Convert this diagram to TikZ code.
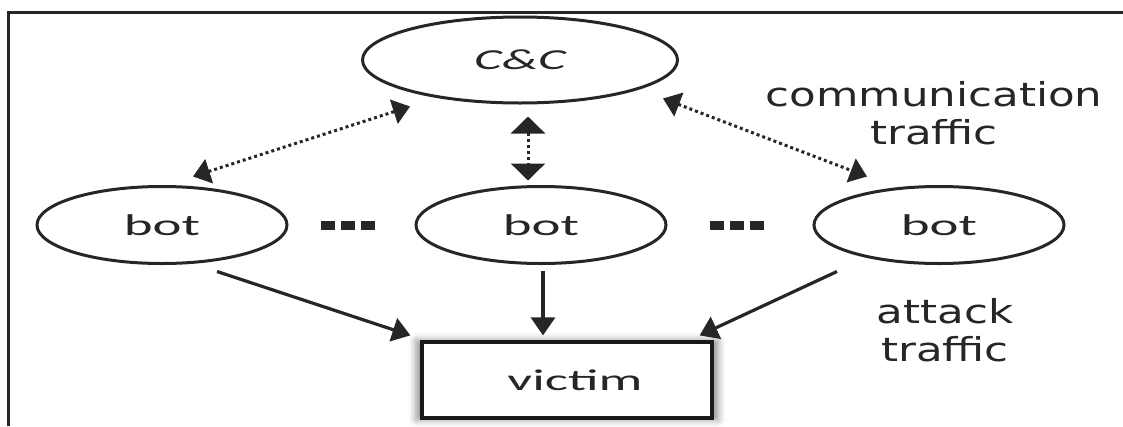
\documentclass[tikz,border=0pt]{standalone}
\usepackage{fontspec}
\newfontfamily\nodefont[FakeStretch=1.83]{Carlito}
\newfontfamily\labelfont[FakeStretch=1.32]{DejaVu Sans}
\usetikzlibrary{arrows.meta,shapes.geometric,shadows.blur}

\begin{document}
\begin{tikzpicture}[x=1pt,y=-1pt,
  ink/.style={draw=black!85, line width=3pt},
  botnode/.style={ellipse, ink, minimum width=250pt, minimum height=77pt,
    inner sep=0pt, font=\nodefont\fontsize{30}{36}\selectfont, text=black!85},
  ccnode/.style={botnode, minimum width=315pt, minimum height=86pt,
    font=\nodefont\itshape\fontsize{29}{36}\selectfont},
  victimbox/.style={rectangle, draw=black!90, line width=3.2pt, fill=white,
    minimum width=290pt, minimum height=76pt, inner sep=0pt,
    font=\nodefont\fontsize{30}{36}\selectfont, text=black!85,
    blur shadow={shadow xshift=0pt, shadow yshift=0pt, shadow scale=1.04,
      shadow blur radius=7pt, shadow opacity=45}},
  ellipsis/.style={inner sep=0pt, text=black!85},
  lbl/.style={font=\labelfont\fontsize{33}{38}\selectfont, text=black!85,
    align=center, inner sep=0pt},
  dotarrow/.style={line width=3pt, draw=black!85, dash pattern=on 3pt off 3pt,
    {Triangle[length=17pt,width=25pt]}-{Triangle[length=17pt,width=25pt]}},
  wideend/.style={{Triangle[length=17pt,width=34pt]}-{Triangle[length=17pt,width=34pt]}},
  hitarrow/.style={line width=3.2pt, draw=black!85, -{Triangle[length=18pt,width=24pt]}}
]
\useasboundingbox (0,0) rectangle (1123,426);

% frame
\draw[line width=3pt, black!85] (8.5,426) -- (8.5,12) -- (1123,12);

% nodes
\node[ccnode] (cc) at (520,60) {C\&C};
\node[botnode] (botL) at (162,225) {bot};
\node[botnode] (botM) at (541,225) {bot};
\node[botnode] (botR) at (939,225) {bot};
\node[victimbox] (victim) at (567,380) {\hspace*{16pt}victim};

\node[ellipsis] (dotsL) at (348,225) {\rule{14pt}{9pt}\hspace{6pt}\rule{14pt}{9pt}\hspace{6pt}\rule{14pt}{9pt}};
\node[ellipsis] (dotsR) at (737,225) {\rule{14pt}{9pt}\hspace{6pt}\rule{14pt}{9pt}\hspace{6pt}\rule{14pt}{9pt}};

% labels
\node[lbl] (comm) at (934,113) {communication\\traffic};
\node[lbl] (atk) at (945,330) {attack\\traffic};

% communication traffic
\draw[dotarrow] ([xshift=31pt,yshift=8.5pt]botL.north) -- ([xshift=-110pt,yshift=-2pt]cc.south);
\draw[dotarrow] ([xshift=143pt,yshift=6pt]cc.south) -- ([xshift=-72pt,yshift=8.5pt]botR.north);
\draw[dotarrow, wideend] ([xshift=8pt,yshift=-12pt]cc.south) -- ([xshift=-13pt,yshift=4.5pt]botM.north);

% attack traffic
\draw[hitarrow] ([xshift=55pt,yshift=-6.5pt]botL.south) -- ([xshift=-10pt,yshift=5pt]victim.north west);
\draw[hitarrow] ([xshift=2pt,yshift=-5.5pt]botM.south) -- ([xshift=-24pt,yshift=5pt]victim.north);
\draw[hitarrow] ([xshift=-102pt,yshift=-6.5pt]botR.south) -- ([xshift=-14pt,yshift=5pt]victim.north east);
\end{tikzpicture}
\end{document}
